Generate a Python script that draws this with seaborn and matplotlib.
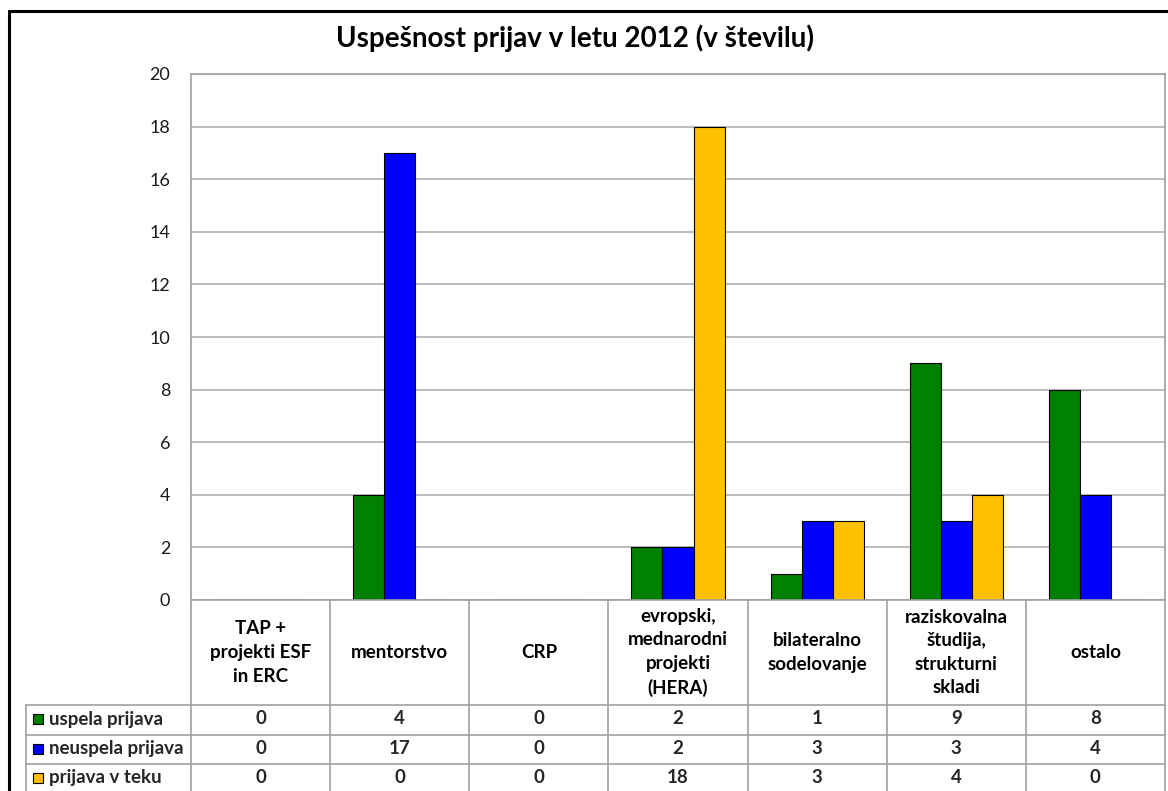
import pandas as pd
import matplotlib.pyplot as plt
import seaborn as sns
from matplotlib.lines import Line2D
from matplotlib.patches import Rectangle

# podatki
kategorije = ["TAP +\nprojekti ESF\nin ERC", "mentorstvo", "CRP",
              "evropski,\nmednarodni\nprojekti\n(HERA)", "bilateralno\nsodelovanje",
              "raziskovalna\nštudija,\nstrukturni\nskladi", "ostalo"]
serije = ["uspela prijava", "neuspela prijava", "prijava v teku"]
uspela = [0, 4, 0, 2, 1, 9, 8]
neuspela = [0, 17, 0, 2, 3, 3, 4]
v_teku = [0, 0, 0, 18, 3, 4, 0]
barve = ["#008000", "#0000FF", "#FFC000"]

vrednosti = [uspela, neuspela, v_teku]
df = pd.DataFrame({
    "kategorija": kategorije * 3,
    "serija": [s for s in serije for _ in kategorije],
    "stevilo": uspela + neuspela + v_teku,
})

sns.set_theme(style="white")
plt.rcParams['font.family'] = ['Lato', 'DejaVu Sans']

W, H = 1168, 791
fig = plt.figure(figsize=(W / 100, H / 100), dpi=100)

def fx(x):
    return x / W

def fy(y):
    return 1 - y / H

left, right, top, bottom = 191, 1165, 74, 600
ax = fig.add_axes([fx(left), fy(bottom), fx(right - left), (bottom - top) / H])

sns.barplot(data=df, x="kategorija", y="stevilo", hue="serija", palette=barve,
            saturation=1, width=0.67, edgecolor="black", linewidth=0.8, ax=ax,
            legend=False)

ax.set_ylim(0, 20)
ax.set_yticks(range(0, 21, 2))
ax.set_xlim(-0.5, len(kategorije) - 0.5)
ax.set_xticks([])
ax.set_xlabel("")
ax.set_ylabel("")
ax.grid(axis="y", color="#b0b0b0", linewidth=1.2)
ax.set_axisbelow(True)
ax.tick_params(axis="y", length=0, pad=15, labelsize=13, labelcolor="#1a1a1a")
for sp in ax.spines.values():
    sp.set_color("#a0a0a0")
    sp.set_linewidth(1.2)

# naslov
fig.text(fx(575), fy(38), "Uspešnost prijav v letu 2012 (v številu)", ha="center", va="center",
         fontsize=20, fontweight="bold", color="black")

# okvir grafikona
fig.add_artist(Line2D([fx(9), fx(9)], [fy(11), fy(H + 5)], color="black", linewidth=2.2))
fig.add_artist(Line2D([fx(9), fx(W + 5)], [fy(11), fy(11)], color="black", linewidth=2.2))

# tabela s podatki
siva = "#a0a0a0"
col_w = (right - left) / len(kategorije)
row_y = [705, 735, 764, 793]
for i in range(len(kategorije) + 1):
    x = left + i * col_w
    fig.add_artist(Line2D([fx(x), fx(x)], [fy(bottom), fy(H + 2)], color=siva, linewidth=1.2))
for y in row_y:
    fig.add_artist(Line2D([fx(26), fx(right)], [fy(y), fy(y)], color=siva, linewidth=1.2))
fig.add_artist(Line2D([fx(26), fx(26)], [fy(row_y[0]), fy(H + 2)], color=siva, linewidth=1.2))

for i, kat in enumerate(kategorije):
    cx = left + (i + 0.5) * col_w
    fig.text(fx(cx), fy((bottom + row_y[0]) / 2), kat, ha="center", va="center",
             fontsize=13.5, fontweight="bold", linespacing=1.47, color="black")

for r, (ime, barva, vals) in enumerate(zip(serije, barve, vrednosti)):
    cy = (row_y[r] + row_y[r + 1]) / 2 - 1
    fig.add_artist(Rectangle((fx(33), fy(cy + 5)), 10 / W, 10 / H, facecolor=barva,
                             edgecolor="black", linewidth=0.8))
    fig.text(fx(49), fy(cy), ime, ha="left", va="center", fontsize=13.5, fontweight="bold")
    for i, v in enumerate(vals):
        cx = left + (i + 0.5) * col_w
        fig.text(fx(cx), fy(cy), str(v), ha="center", va="center", fontsize=13.5,
                 fontweight="bold")

fig.savefig("out.png", dpi=100, facecolor="white")
